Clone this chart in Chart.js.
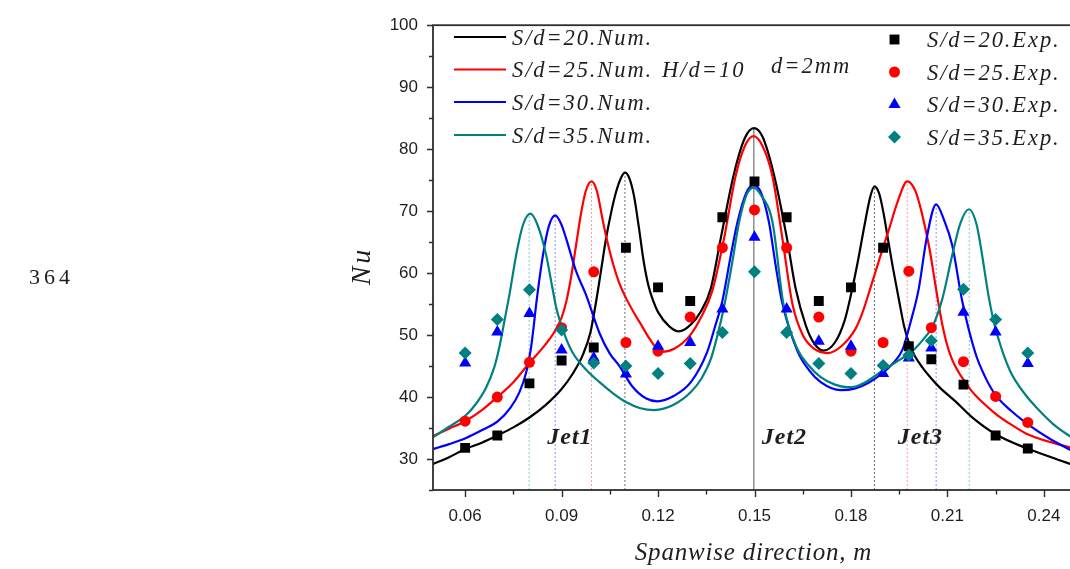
<!DOCTYPE html>
<html>
<head>
<meta charset="utf-8">
<title>Nu vs spanwise direction</title>
<script src="https://cdn.jsdelivr.net/npm/chart.js@4.4.1/dist/chart.umd.min.js"></script>
<style>
  html, body { margin: 0; padding: 0; background: #fff; overflow: hidden; }
  #wrap { position: relative; width: 1100px; height: 569px; }
</style>
</head>
<body>
<div id="wrap"><canvas id="nuChart" width="1100" height="569"></canvas></div>
<script>
// ----------------- Data -----------------
const seriesNames = ["S/d=20", "S/d=25", "S/d=30", "S/d=35"];
const seriesColors = ["#000000", "#ff0000", "#0000ff", "#008080"];
const guideColors = ["rgba(60,60,60,0.75)", "rgba(255,90,90,0.6)", "rgba(70,70,255,0.6)", "rgba(40,170,170,0.6)"];
const markerStyles = ["rect", "circle", "triangle", "rectRot"];
const markerRadius = [7, 5.5, 7, 6.5];

const xTickLabels = ["0.06", "0.09", "0.12", "0.15", "0.18", "0.21", "0.24"];
const yTickLabels = ["30", "40", "50", "60", "70", "80", "90", "100"];

// numerical curves
const numX20 = [0.05, 0.055, 0.06, 0.065, 0.07, 0.075, 0.08, 0.085, 0.09, 0.0935, 0.0966, 0.099, 0.1007, 0.1022, 0.1038, 0.1055, 0.107, 0.1085, 0.1097, 0.111, 0.1125, 0.114, 0.1155, 0.117, 0.1185, 0.12, 0.1235, 0.1265, 0.13, 0.1333, 0.1364, 0.1395, 0.1436, 0.147, 0.1498, 0.1525, 0.156, 0.1601, 0.1628, 0.166, 0.1685, 0.1715, 0.175, 0.178, 0.18, 0.182, 0.1845, 0.186, 0.1873, 0.1888, 0.1902, 0.1915, 0.193, 0.195, 0.1965, 0.198, 0.2, 0.2022, 0.205, 0.2075, 0.2125, 0.218, 0.225, 0.2353, 0.25];
const numY20 = [29.2, 30.3, 31.6, 32.6, 33.8, 35.1, 36.7, 38.7, 41.3, 43.8, 46.8, 50.5, 55.3, 60.2, 65.5, 70.0, 73.2, 75.4, 76.2, 75.4, 72.5, 67.5, 62.0, 58.0, 55.5, 53.7, 51.4, 50.6, 51.6, 53.8, 57.5, 65.6, 76.0, 81.8, 83.4, 82.0, 76.0, 65.6, 57.5, 51.5, 48.7, 47.5, 48.8, 52.3, 56.5, 61.5, 68.5, 72.3, 74.0, 72.8, 69.5, 65.5, 61.0, 55.5, 51.5, 48.8, 46.5, 44.8, 43.0, 41.6, 39.3, 36.6, 34.0, 31.6, 28.9];

const numX25 = [0.05, 0.055, 0.06, 0.065, 0.07, 0.075, 0.08, 0.085, 0.0875, 0.09, 0.0915, 0.093, 0.0945, 0.096, 0.0975, 0.0993, 0.101, 0.1028, 0.1045, 0.106, 0.108, 0.11, 0.1125, 0.1146, 0.1175, 0.121, 0.125, 0.13, 0.1335, 0.1368, 0.1405, 0.1441, 0.147, 0.1497, 0.1525, 0.1556, 0.1587, 0.1618, 0.165, 0.1685, 0.1727, 0.177, 0.1814, 0.1835, 0.186, 0.189, 0.1918, 0.1945, 0.1975, 0.2, 0.202, 0.2044, 0.2063, 0.208, 0.2097, 0.2115, 0.2135, 0.215, 0.2175, 0.22, 0.225, 0.23, 0.2353, 0.25];
const numY25 = [33.7, 34.9, 36.1, 37.8, 40.0, 42.4, 45.5, 48.5, 50.3, 52.8, 55.5, 59.5, 64.5, 69.5, 73.2, 74.8, 73.2, 68.5, 64.5, 61.5, 58.3, 56.0, 53.6, 51.8, 49.3, 47.3, 47.8, 50.0, 53.0, 57.0, 65.5, 75.6, 80.5, 82.1, 80.5, 75.6, 65.5, 55.0, 50.0, 47.8, 47.1, 48.2, 51.0, 53.5, 57.5, 62.5, 67.0, 71.5, 74.8, 73.3, 69.8, 64.0, 58.0, 52.8, 48.8, 46.0, 44.0, 42.8, 41.0, 39.6, 37.3, 35.5, 33.9, 31.6];

const numX30 = [0.05, 0.055, 0.0603, 0.065, 0.0702, 0.074, 0.0769, 0.079, 0.0805, 0.0813, 0.0821, 0.0842, 0.086, 0.088, 0.0898, 0.0914, 0.0945, 0.0976, 0.1018, 0.105, 0.108, 0.112, 0.1162, 0.1198, 0.125, 0.1302, 0.1353, 0.1378, 0.14, 0.1425, 0.1447, 0.1475, 0.1497, 0.152, 0.1545, 0.1565, 0.1585, 0.1633, 0.167, 0.1706, 0.1768, 0.1814, 0.1855, 0.1897, 0.193, 0.196, 0.1985, 0.2011, 0.2035, 0.2065, 0.209, 0.2115, 0.2146, 0.2187, 0.2215, 0.225, 0.23, 0.2353, 0.2417, 0.25];
const numY30 = [31.6, 32.4, 33.4, 34.6, 36.1, 38.2, 40.8, 44.0, 48.0, 51.3, 55.0, 62.9, 67.5, 69.3, 68.0, 65.6, 60.3, 56.5, 50.3, 47.0, 45.0, 41.7, 39.8, 39.3, 40.2, 42.4, 47.3, 51.5, 55.5, 62.5, 68.2, 73.0, 74.2, 73.0, 68.2, 61.5, 55.5, 47.5, 44.3, 42.4, 41.1, 41.4, 42.3, 43.8, 45.4, 47.6, 52.0, 57.5, 65.5, 71.1, 68.5, 64.5, 55.5, 47.1, 43.5, 40.3, 37.7, 35.5, 33.3, 31.0];

const numX35 = [0.05, 0.055, 0.0603, 0.0635, 0.0665, 0.069, 0.0707, 0.0723, 0.0738, 0.0759, 0.078, 0.0803, 0.0825, 0.0852, 0.087, 0.0883, 0.091, 0.0935, 0.0975, 0.1018, 0.106, 0.11, 0.1145, 0.1188, 0.125, 0.1302, 0.1335, 0.1364, 0.1385, 0.1405, 0.143, 0.1452, 0.1475, 0.1497, 0.152, 0.1556, 0.159, 0.1633, 0.167, 0.1706, 0.175, 0.1789, 0.1814, 0.1855, 0.1897, 0.1945, 0.1991, 0.2025, 0.2053, 0.2084, 0.2115, 0.214, 0.2167, 0.219, 0.2203, 0.2229, 0.2245, 0.226, 0.2275, 0.2295, 0.2312, 0.2345, 0.2379, 0.243, 0.25];
const numY35 = [33.5, 35.2, 37.1, 39.0, 41.5, 44.7, 48.2, 52.5, 56.6, 63.0, 67.8, 69.6, 67.8, 62.9, 58.0, 54.5, 50.0, 47.1, 44.5, 42.4, 40.6, 39.2, 38.2, 37.9, 38.8, 40.8, 43.0, 46.1, 50.0, 54.5, 61.5, 68.2, 72.6, 73.8, 72.6, 68.2, 55.0, 47.8, 45.0, 43.2, 42.0, 41.6, 41.7, 42.7, 44.2, 45.8, 47.4, 49.3, 51.3, 55.8, 62.9, 68.0, 70.3, 68.0, 64.5, 56.0, 52.0, 49.2, 46.8, 44.2, 42.6, 40.2, 38.2, 35.6, 33.0];

// experimental points
const expX = [0.06, 0.07, 0.08, 0.09, 0.10, 0.11, 0.12, 0.13, 0.14, 0.15, 0.16, 0.17, 0.18, 0.19, 0.198, 0.205, 0.215, 0.225, 0.235];
const expY20 = [31.8, 33.8, 42.2, 45.9, 48.0, 64.1, 57.7, 55.5, 69.0, 74.8, 69.0, 55.5, 57.7, 64.1, 48.2, 46.1, 42.0, 33.8, 31.7];
const expY25 = [36.1, 40.0, 45.6, 51.2, 60.2, 48.8, 47.4, 52.9, 64.1, 70.2, 64.1, 52.9, 47.4, 48.8, 60.3, 51.2, 45.7, 40.1, 35.9];
const expY30 = [45.5, 50.5, 53.5, 47.6, 46.3, 43.7, 48.2, 48.8, 54.2, 65.8, 54.2, 49.0, 48.2, 43.8, 46.3, 47.9, 53.7, 50.5, 45.4];
const expY35 = [47.1, 52.5, 57.3, 50.8, 45.5, 45.0, 43.8, 45.4, 50.4, 60.2, 50.4, 45.4, 43.8, 45.1, 46.8, 49.1, 57.4, 52.5, 47.1];

// jet positions (dotted guides under each side peak)
const jetPeakX = [[0.1097, 0.1873], [0.0993, 0.1975], [0.088, 0.2065], [0.0799, 0.2168]];
const jetPeakY = [[76.2, 74.0], [74.8, 74.8], [69.3, 71.1], [69.6, 70.3]];
const centreJetX = 0.1498;
const centreJetY = 83.4;
const jetNames = ["Jet1", "Jet2", "Jet3"];
const jetLabelX = [0.0926, 0.1593, 0.2016];
const jetLabelY = 32.4;

const numX = [numX20, numX25, numX30, numX35];
const numY = [numY20, numY25, numY30, numY35];
const expY = [expY20, expY25, expY30, expY35];

const SERIF = '"Liberation Serif", "Times New Roman", serif';
const SANS = '"Liberation Sans", Arial, sans-serif';
const Y_MIN = 25, Y_MAX = 100, X_MIN = 0.05, X_MAX = 0.25;

const pts = (xs, ys) => xs.map((x, i) => ({ x: x, y: ys[i] }));

// ----------------- Datasets -----------------
function buildDatasets() {
  const sets = [];
  seriesNames.forEach((name, i) => {
    sets.push({
      label: name + ".Exp.",
      data: pts(expX, expY[i]),
      showLine: false,
      pointStyle: markerStyles[i],
      pointRadius: markerRadius[i],
      pointBackgroundColor: seriesColors[i],
      pointBorderWidth: 0,
      order: 1 + (3 - i) * 0.1
    });
    sets.push({
      label: name + ".Num.",
      data: pts(numX[i], numY[i]),
      borderColor: seriesColors[i],
      borderWidth: 2.2,
      pointRadius: 0,
      cubicInterpolationMode: "monotone",
      fill: false,
      order: 2 + (3 - i) * 0.1
    });
    jetPeakX[i].forEach((px, k) => {
      sets.push({
        label: "guide",
        data: [{ x: px, y: Y_MIN }, { x: px, y: jetPeakY[i][k] }],
        borderColor: guideColors[i],
        borderWidth: 1,
        borderDash: [2, 2],
        pointRadius: 0,
        order: 3
      });
    });
  });
  sets.push({
    label: "centre",
    data: [{ x: centreJetX, y: Y_MIN }, { x: centreJetX, y: centreJetY }],
    borderColor: "#555",
    borderWidth: 1,
    pointRadius: 0,
    order: 3
  });
  return sets;
}

// ----------------- Decorations -----------------
function text(ctx, str, x, y, font, spacing, align) {
  ctx.font = font;
  ctx.letterSpacing = spacing + "px";
  ctx.textAlign = align || "left";
  ctx.textBaseline = "alphabetic";
  ctx.fillText(str, x, y);
  ctx.letterSpacing = "0px";
}

const decor = {
  id: "decor",
  afterDraw(chart) {
    const { ctx, chartArea: a } = chart;
    const xs = chart.scales.x, ys = chart.scales.y;
    ctx.save();

    // frame
    ctx.strokeStyle = "#2e2e2e";
    ctx.lineWidth = 1.8;
    ctx.strokeRect(a.left, a.top, a.right - a.left, a.bottom - a.top);

    // outward ticks
    ctx.lineWidth = 1.4;
    ctx.beginPath();
    xs.ticks.forEach(t => {
      const p = Math.round(xs.getPixelForValue(t.value)) + 0.5;
      ctx.moveTo(p, a.bottom);
      ctx.lineTo(p, a.bottom + (t.major ? 7 : 4.5));
    });
    ys.ticks.forEach(t => {
      const p = Math.round(ys.getPixelForValue(t.value)) + 0.5;
      ctx.moveTo(a.left, p);
      ctx.lineTo(a.left - (t.major ? 6 : 4), p);
    });
    ctx.stroke();

    ctx.fillStyle = "#1e1e1e";
    // axis titles
    text(ctx, "Spanwise direction, m", 753.5, 559.5, "italic 25px " + SERIF, 0.8, "center");
    ctx.save();
    ctx.translate(370, 266);
    ctx.rotate(-Math.PI / 2);
    text(ctx, "Nu", 0, 0, "italic 28px " + SERIF, 3, "center");
    ctx.restore();
    text(ctx, "364", 29, 284, "22px " + SERIF, 4, "left");

    // jet labels
    jetNames.forEach((n, i) => {
      text(ctx, n, xs.getPixelForValue(jetLabelX[i]), ys.getPixelForValue(jetLabelY),
        "italic bold 24px " + SERIF, 1, "center");
    });

    // legend: numerical column and experimental column
    const numRows = [37, 69.5, 102, 135];
    const expRows = [39.5, 72, 104.5, 137];
    const legendFont = "italic 22.5px " + SERIF;
    seriesNames.forEach((n, i) => {
      ctx.strokeStyle = seriesColors[i];
      ctx.lineWidth = 2.2;
      ctx.beginPath();
      ctx.moveTo(454, numRows[i]);
      ctx.lineTo(506, numRows[i]);
      ctx.stroke();
      ctx.fillStyle = "#1e1e1e";
      text(ctx, n + ".Num.", 512, numRows[i] + 7.5, legendFont, 1.9, "left");

      ctx.fillStyle = seriesColors[i];
      Chart.helpers.drawPoint(ctx, { pointStyle: markerStyles[i], radius: markerRadius[i], rotation: 0, borderWidth: 0 }, 894.5, expRows[i]);
      ctx.fillStyle = "#1e1e1e";
      text(ctx, n + ".Exp.", 927, expRows[i] + 7.5, legendFont, 1.9, "left");
    });
    text(ctx, "H/d=10", 662, 77, legendFont, 2, "left");
    text(ctx, "d=2mm", 771, 72.5, legendFont, 2, "left");

    ctx.restore();
  }
};

// ----------------- Chart -----------------
function renderChart() {
  const xMajor = xTickLabels.map(Number);
  const yMajor = yTickLabels.map(Number);
  const xStep = xMajor[1] - xMajor[0];
  const yStep = yMajor[1] - yMajor[0];

  new Chart(document.getElementById("nuChart").getContext("2d"), {
    type: "line",
    data: { datasets: buildDatasets() },
    options: {
      responsive: false,
      maintainAspectRatio: false,
      devicePixelRatio: 1,
      animation: false,
      events: [],
      layout: { padding: { top: 16, right: 24, left: 0, bottom: 0 } },
      plugins: { legend: { display: false }, tooltip: { enabled: false } },
      scales: {
        x: {
          type: "linear",
          min: X_MIN,
          max: X_MAX,
          grid: { display: false, drawTicks: false },
          border: { display: false },
          afterBuildTicks: s => {
            const t = [];
            xMajor.forEach(v => {
              t.push({ value: v, major: true });
              if (v + xStep / 2 <= X_MAX) t.push({ value: +(v + xStep / 2).toFixed(4), major: false });
            });
            t.unshift({ value: +(xMajor[0] - xStep / 2).toFixed(4), major: false });
            s.ticks = t.filter(k => k.value >= X_MIN && k.value <= X_MAX);
          },
          afterFit: s => { s.height = 79; },
          ticks: {
            autoSkip: false,
            maxRotation: 0,
            padding: 16,
            color: "#1e1e1e",
            font: { family: SANS, size: 17 },
            callback: v => {
              const i = xMajor.findIndex(m => Math.abs(m - v) < 1e-6);
              return i >= 0 ? xTickLabels[i] : "";
            }
          }
        },
        y: {
          min: Y_MIN,
          max: Y_MAX,
          grid: { display: false, drawTicks: false },
          border: { display: false },
          afterBuildTicks: s => {
            const t = [];
            for (let v = Y_MIN; v <= Y_MAX + 1e-9; v += yStep / 2) {
              t.push({ value: v, major: yMajor.includes(v) });
            }
            s.ticks = t;
          },
          afterFit: s => { s.width = 433; },
          ticks: {
            autoSkip: false,
            padding: 15,
            color: "#1e1e1e",
            font: { family: SANS, size: 17 },
            callback: v => {
              const i = yMajor.indexOf(v);
              return i >= 0 ? yTickLabels[i] : "";
            }
          }
        }
      }
    },
    plugins: [decor]
  });
}

window.addEventListener("DOMContentLoaded", renderChart);
</script>
</body>
</html>
